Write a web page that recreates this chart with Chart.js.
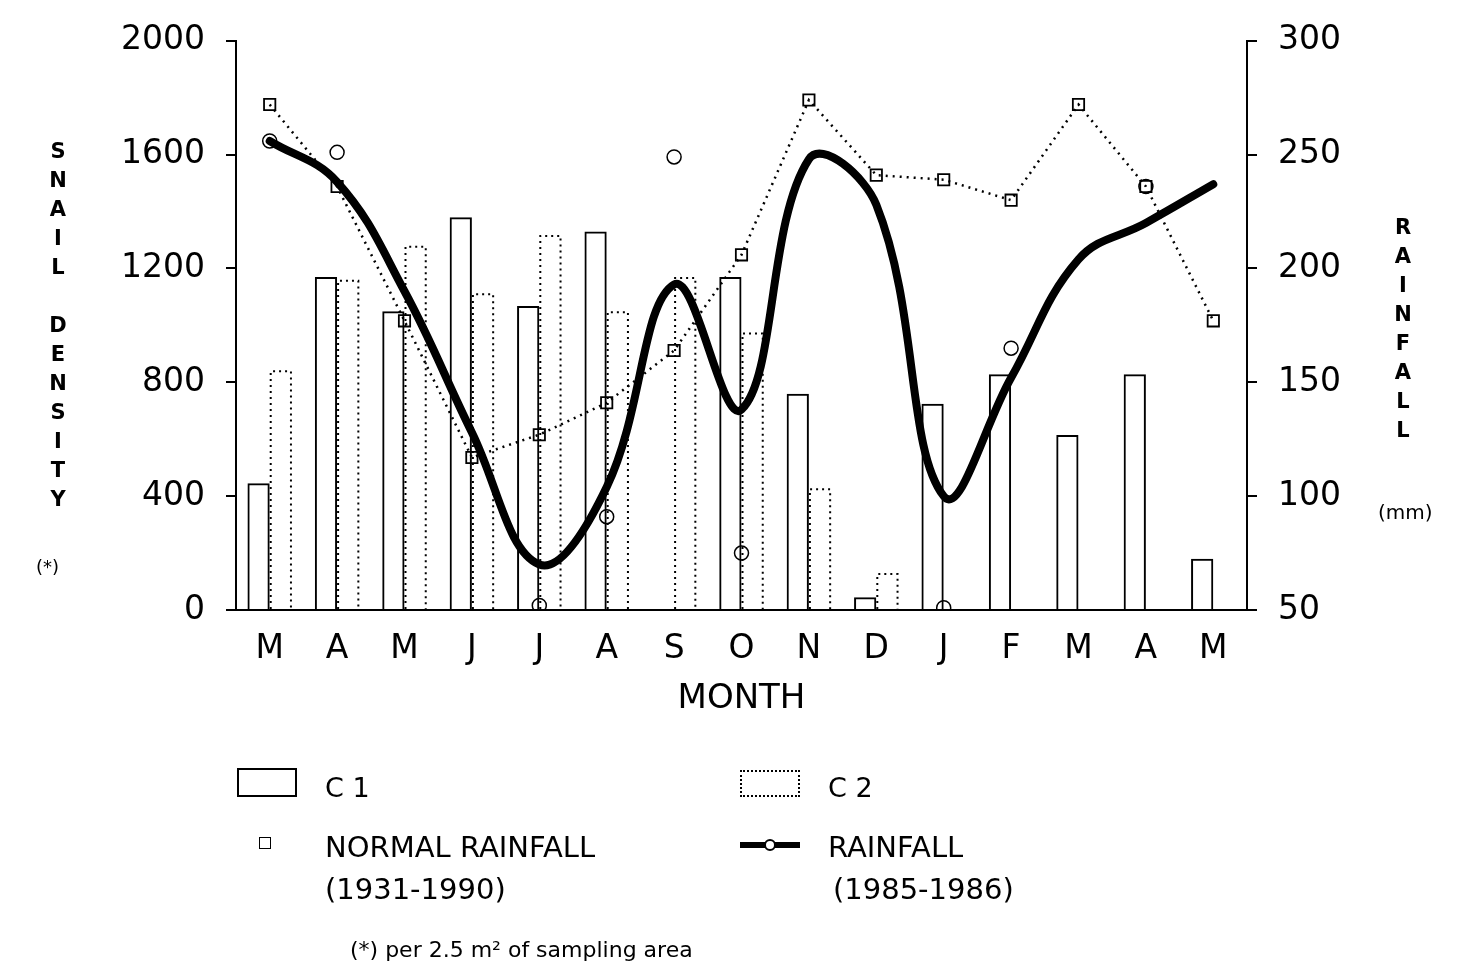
<!DOCTYPE html>
<html><head><meta charset="utf-8">
<script src="https://cdn.jsdelivr.net/npm/chart.js@4.4.0/dist/chart.umd.min.js"></script>
<style>
html,body{margin:0;padding:0;background:#fff;}
#wrap{position:relative;width:1463px;height:971px;overflow:hidden;font-family:'DejaVu Sans',sans-serif;color:#000;}
canvas{position:absolute;left:0;top:0;}
.stack{position:absolute;text-align:center;font-weight:bold;font-size:21px;line-height:29px;width:30px;}
.t{position:absolute;white-space:nowrap;line-height:1;}
.box{position:absolute;box-sizing:border-box;}
</style></head>
<body><div id="wrap">
<canvas id="c" width="1463" height="971"></canvas>
<div class="stack" style="left:43px;top:137px;">S<br>N<br>A<br>I<br>L<br>&nbsp;<br>D<br>E<br>N<br>S<br>I<br>T<br>Y</div>
<div class="t" style="left:36px;top:558px;font-size:18px;">(*)</div>
<div class="stack" style="left:1388px;top:213px;">R<br>A<br>I<br>N<br>F<br>A<br>L<br>L</div>
<div class="t" style="left:1378px;top:502px;font-size:20px;">(mm)</div>

<div class="box" style="left:237px;top:768px;width:60px;height:29px;border:2px solid #000;"></div>
<div class="t" style="left:325px;top:774px;font-size:27px;">C 1</div>
<div class="box" style="left:740px;top:770px;width:60px;height:27px;border:2px dotted #000;"></div>
<div class="t" style="left:828px;top:774px;font-size:27px;">C 2</div>

<div class="box" style="left:259px;top:837px;width:12px;height:12px;border:1.5px solid #000;"></div>
<div class="t" style="left:325px;top:833px;font-size:29px;">NORMAL RAINFALL</div>
<div class="t" style="left:325px;top:875px;font-size:29px;">(1931-1990)</div>
<div class="box" style="left:740px;top:842px;width:60px;height:6px;background:#000;"></div>
<div class="box" style="left:764px;top:839px;width:12px;height:12px;border:2px solid #000;border-radius:50%;background:#fff;"></div>
<div class="t" style="left:828px;top:833px;font-size:29px;">RAINFALL</div>
<div class="t" style="left:833px;top:875px;font-size:29px;">(1985-1986)</div>

<div class="t" style="left:350px;top:939px;font-size:22px;">(*) per 2.5 m² of sampling area</div>
</div>
<script>
const months = ['M','A','M','J','J','A','S','O','N','D','J','F','M','A','M'];
const c1Density = [445,1170,1050,1380,1068,1330,0,1170,760,45,725,828,615,828,180];
const c2Density = [842,1160,1280,1113,1318,1050,1170,975,428,130,0,0,0,0,0];
const normalRainfall = [272,236,177,117,127,141,164,206,274,241,239,230,272,236,177];
const rainfall8586 = [256,238,190,128,70,104,193,138,248,228,100,152,204,220,237];
const openCircles = [256,251,null,null,52,91,249,75,null,null,51,165,null,236,null];
const densityTicks = [0,400,800,1200,1600,2000];
const rainTicks = [50,100,150,200,250,300];

const FONT = 'DejaVu Sans';

const dottedBars = {
  id: 'dottedBars',
  afterDatasetDraw(chart, args) {
    const ds = chart.data.datasets[args.index];
    if (ds.label !== 'C 2') return;
    const ctx = chart.ctx;
    ctx.save();
    ctx.setLineDash([2, 4]);
    ctx.lineWidth = 2;
    ctx.strokeStyle = '#000';
    args.meta.data.forEach(bar => {
      const p = bar.getProps(['x', 'y', 'base', 'width'], true);
      if (Math.abs(p.base - p.y) < 1) return;
      const l = p.x - p.width / 2 + 1, r = p.x + p.width / 2 - 1;
      ctx.beginPath();
      ctx.moveTo(l, p.base);
      ctx.lineTo(l, p.y + 1);
      ctx.lineTo(r, p.y + 1);
      ctx.lineTo(r, p.base);
      ctx.stroke();
    });
    ctx.restore();
  }
};

const plainTick = v => String(v);

new Chart(document.getElementById('c'), {
  data: {
    labels: months,
    datasets: [
      { type: 'bar', label: 'C 1', data: c1Density, yAxisID: 'y',
        backgroundColor: 'rgba(0,0,0,0)', borderColor: '#000', borderWidth: 2, borderSkipped: 'start',
        barPercentage: 1, categoryPercentage: 0.66, order: 3 },
      { type: 'bar', label: 'C 2', data: c2Density, yAxisID: 'y',
        backgroundColor: 'rgba(0,0,0,0)', borderWidth: 0,
        barPercentage: 1, categoryPercentage: 0.66, order: 3 },
      { type: 'line', label: 'NORMAL RAINFALL (1931-1990)', data: normalRainfall, yAxisID: 'y2',
        borderColor: '#000', borderWidth: 2.5, borderDash: [2, 5], tension: 0,
        pointStyle: 'rect', pointRadius: 8, pointBorderWidth: 1.8, pointBorderColor: '#000',
        pointBackgroundColor: 'rgba(0,0,0,0)', order: 1 },
      { type: 'line', label: 'RAINFALL (1985-1986)', data: rainfall8586, yAxisID: 'y2',
        borderColor: '#000', borderWidth: 8, tension: 0.4, borderCapStyle: 'round', borderJoinStyle: 'round',
        pointRadius: 0, order: 0 },
      { type: 'line', label: 'circles', data: openCircles, yAxisID: 'y2', showLine: false,
        pointStyle: 'circle', pointRadius: 7, pointBorderWidth: 1.5, pointBorderColor: '#000',
        pointBackgroundColor: 'rgba(0,0,0,0)', order: 2 }
    ]
  },
  options: {
    responsive: false,
    animation: false,
    devicePixelRatio: 1,
    layout: { padding: { top: 37, bottom: 251, left: 0, right: 0 } },
    plugins: { legend: { display: false }, tooltip: { enabled: false } },
    scales: {
      x: {
        type: 'category', offset: true,
        grid: { display: false, drawTicks: false },
        border: { display: true, color: '#000', width: 2 },
        ticks: { font: { family: FONT, size: 33 }, color: '#000', padding: 20, maxRotation: 0, autoSkip: false },
        title: { display: true, text: 'MONTH', color: '#000', font: { family: FONT, size: 34 }, padding: { top: 0, bottom: 0 } },
        afterFit(s) { s.height = 110; }
      },
      y: {
        position: 'left', min: 0, max: 2000,
        afterBuildTicks(s) { s.ticks = densityTicks.map(v => ({ value: v })); },
        grid: { display: true, drawOnChartArea: false, drawTicks: true, tickLength: 10, color: '#000', lineWidth: 2 },
        border: { display: true, color: '#000', width: 2 },
        ticks: { font: { family: FONT, size: 33 }, color: '#000', padding: 21, callback: plainTick },
        afterFit(s) { s.width = 236; }
      },
      y2: {
        position: 'right', min: 50, max: 300,
        afterBuildTicks(s) { s.ticks = rainTicks.map(v => ({ value: v })); },
        grid: { display: true, drawOnChartArea: false, drawTicks: true, tickLength: 10, color: '#000', lineWidth: 2 },
        border: { display: true, color: '#000', width: 2 },
        ticks: { font: { family: FONT, size: 33 }, color: '#000', padding: 21, callback: plainTick },
        afterFit(s) { s.width = 216; }
      }
    }
  },
  plugins: [dottedBars]
});
</script>
</body></html>
